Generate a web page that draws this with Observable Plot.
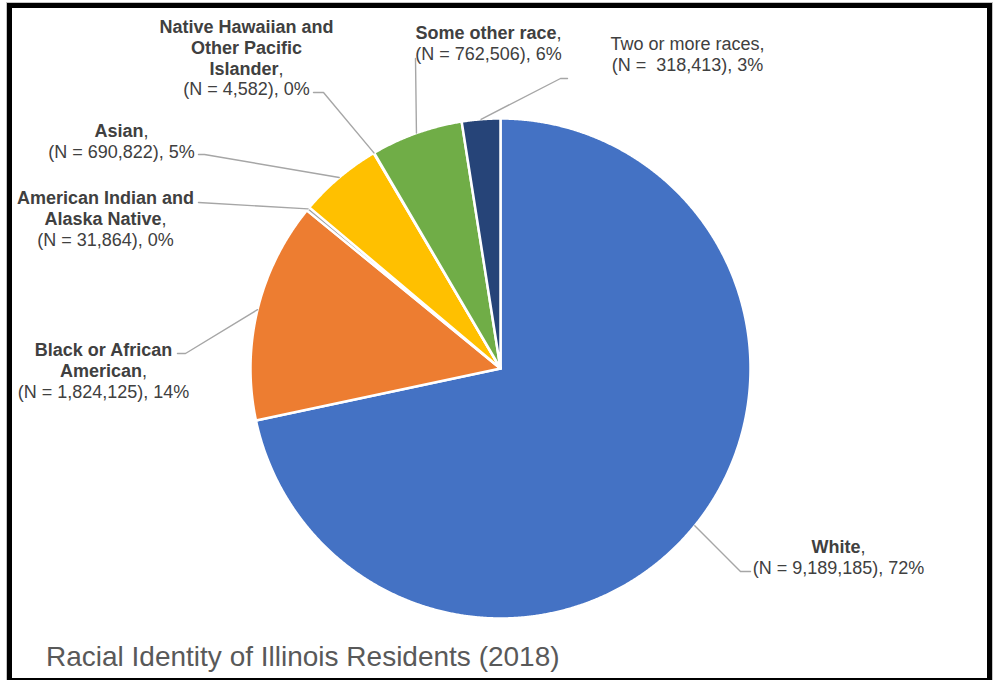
<!DOCTYPE html>
<html><head><meta charset="utf-8">
<script src="https://cdn.jsdelivr.net/npm/d3@7"></script>
<script src="https://cdn.jsdelivr.net/npm/@observablehq/plot@0.6"></script>
<style>
html,body{margin:0;padding:0;background:#fff;}
#wrap{position:relative;width:996px;height:680px;overflow:hidden;font-family:"Liberation Sans",Arial,sans-serif;background:#fff;}
#chart svg{display:block;}
#chart text{white-space:pre;}
#title{position:absolute;left:46px;top:643px;font-size:28px;line-height:28px;color:#595959;white-space:nowrap;}
#frame{position:absolute;left:7px;top:3px;width:985px;height:680px;border:5px solid #000;box-sizing:border-box;box-shadow:0 0 0 1px #c4c4c4;pointer-events:none;}
</style></head>
<body><div id="wrap"><div id="chart"></div><div id="title">Racial Identity of Illinois Residents (2018)</div><div id="frame"></div></div>
<script>
// ---- data ----
const races = ["White","Black or African American","American Indian and Alaska Native","Asian","Native Hawaiian and Other Pacific Islander","Some other race","Two or more races"];
const counts = [9189185, 1824125, 31864, 690822, 4582, 762506, 318413];
const percentLabels = ["72%","14%","0%","5%","0%","6%","3%"];
const nameLines = ["*White*,", "*Black or African*\n*American*,", "*American Indian and*\n*Alaska Native*,", "*Asian*,", "*Native Hawaiian and*\n*Other Pacific*\n*Islander*,", "*Some other race*,", "Two or more races,"];
const nGaps = [" "," "," "," "," "," ","  "];
const colors = ["#4472C4","#ED7D31","#A5A5A5","#FFC000","#5B9BD5","#70AD47","#264478"];

// ---- layout (pixels) ----
const W = 996, H = 640, CX = 500, CY = 368, R = 250;
const labelLayout = [
  {x: 838, y: 538, bend: [740, 571], end: [750, 571]},
  {x: 103, y: 341, bend: [185, 353], end: [177, 353]},
  {x: 105, y: 189, bend: null, end: [198, 202]},
  {x: 121, y: 122, bend: [204, 154], end: [198, 154]},
  {x: 246, y: 18,  bend: [323, 92], end: [313, 92]},
  {x: 488, y: 24,  bend: null, end: [415, 58]},
  {x: 687, y: 35,  bend: [560, 78], end: [567, 78]}
];

const total = d3.sum(counts);
let acc = 0;
const slices = races.map((race, i) => {
  const a0 = acc / total * 2 * Math.PI; acc += counts[i];
  const a1 = acc / total * 2 * Math.PI;
  return {race, i, a0, a1, mid: (a0 + a1) / 2};
});

const polyPts = slices.flatMap(s => {
  const pts = [{race: s.race, x: CX, y: CY}];
  const n = Math.max(2, Math.ceil((s.a1 - s.a0) / (Math.PI / 720)));
  for (let k = 0; k <= n; k++) {
    const a = s.a0 + (s.a1 - s.a0) * k / n;
    pts.push({race: s.race, x: CX + R * Math.sin(a), y: CY - R * Math.cos(a)});
  }
  pts.push({race: s.race, x: CX, y: CY});
  return pts;
});

const leaderPts = slices.flatMap(s => {
  const L = labelLayout[s.i];
  const pts = [{i: s.i, x: CX + R * Math.sin(s.mid), y: CY - R * Math.cos(s.mid)}];
  if (L.bend) pts.push({i: s.i, x: L.bend[0], y: L.bend[1]});
  pts.push({i: s.i, x: L.end[0], y: L.end[1]});
  return pts;
});

const fmt = d3.format(",");
const labels = slices.map(s => ({
  x: labelLayout[s.i].x, y: labelLayout[s.i].y,
  text: nameLines[s.i] + "\n(N =" + nGaps[s.i] + fmt(counts[s.i]) + "), " + percentLabels[s.i]
}));

const plot = Plot.plot({
  width: W, height: H, margin: 0,
  x: {domain: [0, W], range: [0, W], axis: null},
  y: {domain: [0, H], range: [0, H], axis: null},
  color: {domain: races, range: colors},
  style: {fontFamily: '"Liberation Sans", Arial, sans-serif', background: "transparent"},
  marks: [
    Plot.line(polyPts, {x: "x", y: "y", z: "race", fill: "race", stroke: "white", strokeWidth: 2.5, strokeLinejoin: "round"}),
    Plot.line(leaderPts, {x: "x", y: "y", z: "i", stroke: "#A6A6A6", strokeWidth: 1.4}),
    Plot.text(labels, {x: "x", y: "y", text: "text", textAnchor: "middle", lineAnchor: "top", lineHeight: 1.15, fontSize: 18, fill: "#404040"})
  ]
});

// mixed bold/normal within label lines
const svgNS = "http://www.w3.org/2000/svg";
const nodes = [];
plot.querySelectorAll('g[aria-label="text"] text').forEach(t => {
  const ts = t.querySelectorAll("tspan");
  if (ts.length) ts.forEach(x => nodes.push(x)); else nodes.push(t);
});
nodes.forEach(node => {
  const t = node.textContent;
  if (!t.includes("*")) return;
  node.textContent = "";
  t.split("*").forEach((seg, k) => {
    if (!seg) return;
    const s = document.createElementNS(svgNS, "tspan");
    s.textContent = seg;
    if (k % 2 === 1) s.setAttribute("font-weight", "bold");
    node.appendChild(s);
  });
});

document.getElementById("chart").appendChild(plot);
</script>
</body></html>
